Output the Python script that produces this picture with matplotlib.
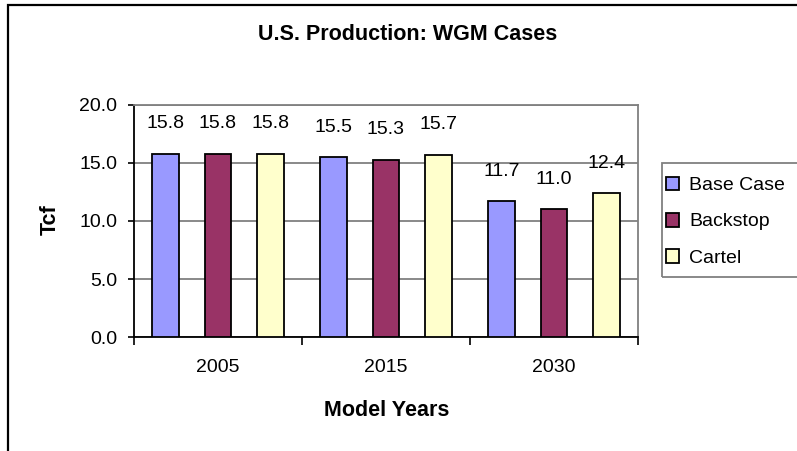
import numpy as np
import matplotlib
matplotlib.use('Agg')
import matplotlib.pyplot as plt
from matplotlib.patches import Rectangle

plt.rcParams['font.family'] = ['Liberation Sans', 'DejaVu Sans']

# data
years = ['2005', '2015', '2030']
series = ['Base Case', 'Backstop', 'Cartel']
base_case = [15.8, 15.5, 11.7]
backstop = [15.8, 15.3, 11.0]
cartel = [15.8, 15.7, 12.4]
colors = ['#9999FF', '#993366', '#FFFFCC']

W, H = 797, 451
fig = plt.figure(figsize=(W / 100, H / 100), dpi=100)

# outer chart border (only top/left visible)
fig.patches.append(Rectangle((8 / W, -0.1), 1.2, 1 - 5 / H + 0.1, transform=fig.transFigure,
                             fill=False, edgecolor='black', linewidth=1.6))

ax = fig.add_axes([134 / W, 1 - 337 / H, (638 - 134) / W, (337 - 105) / H])

x = np.arange(len(years))
offsets = [-0.3125, 0, 0.3125]
width = 0.158
for vals, off, col, name in zip([base_case, backstop, cartel], offsets, colors, series):
    bars = ax.bar(x + off, vals, width, color=col, edgecolor='black', linewidth=1.3,
                  label=name, zorder=3)
    for b, v in zip(bars, vals):
        ax.annotate('%.1f' % v, (b.get_x() + b.get_width() / 2, v),
                    xytext=(0, 30), textcoords='offset pixels',
                    ha='center', va='center', fontsize=14)

ax.set_xlim(-0.5, 2.5)
ax.set_ylim(0, 20)
ax.set_yticks([0, 5, 10, 15, 20])
ax.set_yticklabels(['%.1f' % t for t in [0, 5, 10, 15, 20]], fontsize=14)
ax.yaxis.grid(True, color='#808080', linewidth=1.3, zorder=0)
ax.set_axisbelow(True)

ax.set_xticks([-0.5, 0.5, 1.5, 2.5])
ax.set_xticklabels([])
ax.set_xticks(x, minor=True)
ax.set_xticklabels(years, minor=True, fontsize=14)
ax.tick_params(axis='x', which='minor', length=0, pad=16)
ax.tick_params(axis='x', which='major', length=6, width=1.2, direction='out')
ax.tick_params(axis='y', length=4, width=1.2, direction='out', pad=8)

for s in ['top', 'right']:
    ax.spines[s].set_color('#808080')
    ax.spines[s].set_linewidth(1.3)
for s in ['left', 'bottom']:
    ax.spines[s].set_color('black')
    ax.spines[s].set_linewidth(1.3)

fig.text(50 / W, 1 - 220 / H, 'Tcf', rotation=90, ha='center', va='center',
         fontsize=15.5, fontweight='bold')
fig.text(387 / W, 1 - 410 / H, 'Model Years', ha='center', va='center',
         fontsize=15.5, fontweight='bold')
fig.text(408 / W, 1 - 34 / H, 'U.S. Production: WGM Cases', ha='center', va='center',
         fontsize=15.5, fontweight='bold')

# legend box runs off the right edge
fig.patches.append(Rectangle((662 / W, 1 - 277 / H), 0.3, (277 - 163) / H,
                             transform=fig.transFigure, fill=False,
                             edgecolor='#808080', linewidth=1.3))
leg = fig.legend(loc='upper left', bbox_to_anchor=(659 / W, 1 - 170 / H), fontsize=14,
                 frameon=False, borderaxespad=0, borderpad=0.35,
                 handlelength=0.7, handleheight=0.7, handletextpad=0.5,
                 labelspacing=0.95)

fig.savefig('out.png', dpi=100)
